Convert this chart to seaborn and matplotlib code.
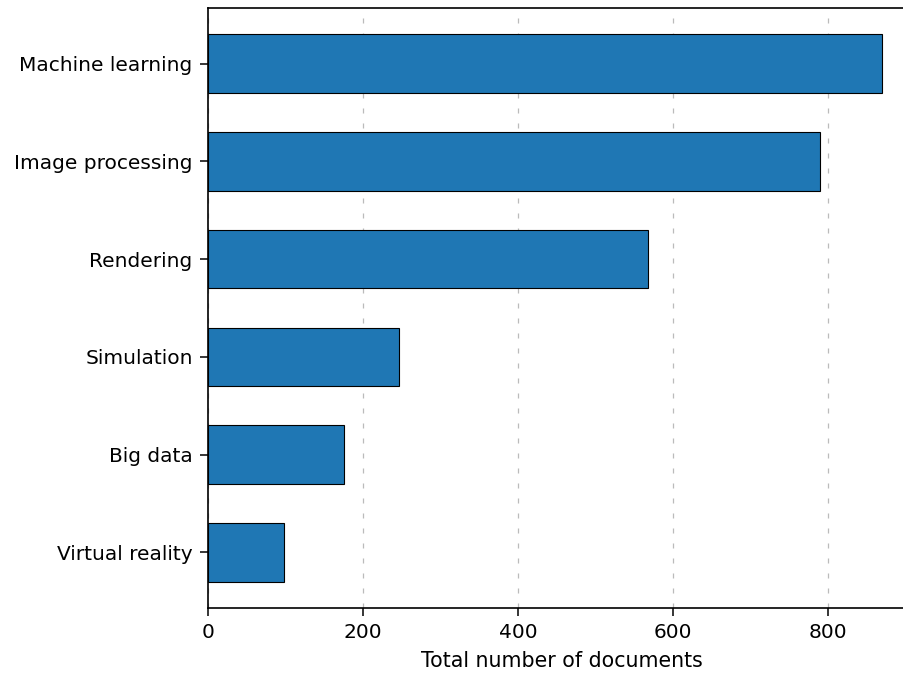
import matplotlib
matplotlib.use("Agg")
import matplotlib.pyplot as plt
import seaborn as sns
import pandas as pd

categories = ["Machine learning", "Image processing", "Rendering", "Simulation", "Big data", "Virtual reality"]
values = [870, 790, 568, 246, 175, 98]
xticks = [0, 200, 400, 600, 800]

sns.set_style("ticks")
plt.rcParams['font.family'] = ['DejaVu Sans']
plt.rcParams['text.color'] = 'black'
plt.rcParams['axes.labelcolor'] = 'black'
plt.rcParams['xtick.color'] = 'black'
plt.rcParams['ytick.color'] = 'black'

df = pd.DataFrame({"topic": categories, "docs": values})

fig = plt.figure(figsize=(9.04, 6.73), dpi=100)
ax = fig.add_axes([208/904, 65/673, 708/904, 600/673])
sns.barplot(data=df, y="topic", x="docs", orient="h", color="#1f77b4", saturation=1,
            width=0.6, edgecolor="black", linewidth=0.8, ax=ax, zorder=3)
ax.set_xlim(0, 913.5)
ax.set_ylim(5.57, -0.57)
ax.set_xticks(xticks)
ax.xaxis.grid(True, linestyle=(0, (4, 8)), color="#bbbbbb", linewidth=0.9, zorder=0)
ax.set_axisbelow(True)
ax.set_xlabel("Total number of documents", fontsize=14.8, labelpad=6)
ax.set_ylabel("")
ax.tick_params(axis="both", labelsize=14.5, length=6, width=1.1, pad=5, colors="black")
for s in ax.spines.values():
    s.set_linewidth(1.2)
    s.set_color("black")
fig.savefig("out.png", dpi=100)
